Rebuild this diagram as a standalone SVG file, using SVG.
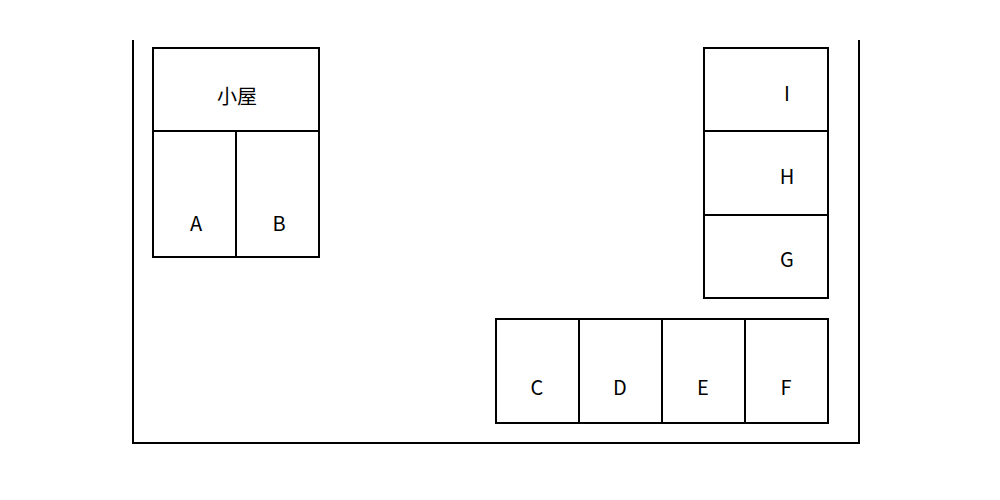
<svg xmlns="http://www.w3.org/2000/svg" width="1000" height="500" viewBox="0 0 1000 500">
<style>
.l{fill:none;stroke:#000;stroke-width:2}
.t{font-family:"Noto Sans CJK JP","DejaVu Sans Mono",sans-serif;font-size:20px;text-anchor:middle;fill:#000}
</style>
<rect width="1000" height="500" fill="#fff"/>
<path class="l" d="M133,40V443H859V40"/>
<g id="hut">
<rect class="l" x="153" y="48" width="166" height="209"/>
<path class="l" d="M153,131H319M236,131V257"/>
<text class="t" x="237" y="104">小屋</text>
<text class="t" x="196" y="231">A</text>
<text class="t" x="279" y="231">B</text>
</g>
<g id="right">
<rect class="l" x="704" y="48" width="124" height="250"/>
<path class="l" d="M704,131H828M704,215H828"/>
<text class="t" x="787" y="101">I</text>
<text class="t" x="787" y="184">H</text>
<text class="t" x="787" y="267">G</text>
</g>
<g id="bottom">
<rect class="l" x="496" y="319" width="332" height="104"/>
<path class="l" d="M579,319V423M662,319V423M745,319V423"/>
<text class="t" x="537" y="395">C</text>
<text class="t" x="620" y="395">D</text>
<text class="t" x="703" y="395">E</text>
<text class="t" x="786" y="395">F</text>
</g>
</svg>
